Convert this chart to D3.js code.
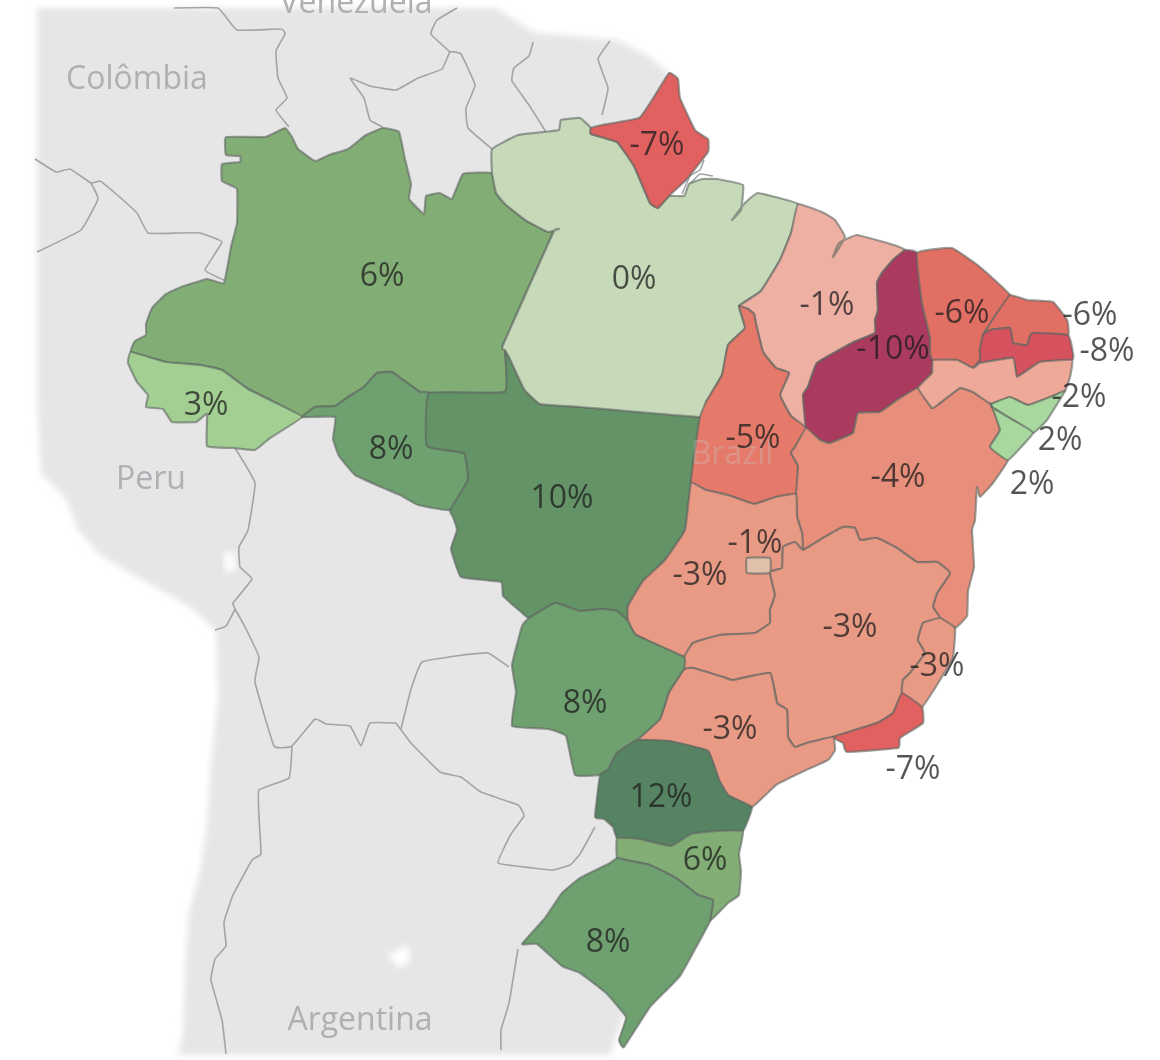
<!DOCTYPE html>
<html>
<head>
<meta charset="utf-8">
<script src="https://cdn.jsdelivr.net/npm/d3@7"></script>
<style>
  html, body { margin: 0; background: #fff; }
  svg { display: block; filter: blur(.6px); }
</style>
</head>
<body>
<svg id="map"></svg>
<script>
// outlines are traced off the picture, in map units. shared borders are kept
// once as arcs, states list their arcs in order ("-" = walk it backwards)
const stateNames = ['AM','AC','RO','MT','PA','AP','MA','TO','PI','BA','GO','DF','MG','ES','RJ','SP','MS','PR','SC','RS','CE','RN','PB','PE','AL','SE']
const stateValues = [6,3,8,10,0,-7,-1,-5,-10,-4,-3,-0.6,-3,-3,-7,-3,8,12,6,8,-6,-6,-8,-2,2,2]
const labelSpots = [[382,274],[206,403],[391,447],[562,496],[634,277],[657,143],[827,303],[753,436],[893,347],[898,475],[700,573],[755,541],[850,625],[937,664],[913,767],[730,727],[585,701],[661,795],[705,858],[608,940],[962,311],[1090,313],[1107,349],[1079,395],[1060,438],[1032,482]]
const stateRings = [
  ['amNorth','amPa','amMt','amRo','amAc','amWest'],
  ['acOuter','amAc'],
  ['roMt','roSouth','-amRo'],
  ['paMt','mtTo','mtGo','mtMs','mtWest','-roMt','-amMt'],
  ['paNorth','paAp','paCoast','paMa','paTo','-paMt','-amPa'],
  ['apOuter','-paAp'],
  ['maCoast','maPi','-toMa','-paMa'],
  ['toMa','toBa','-toGo','-mtTo','-paTo'],
  ['piCoast','piCe','piPe','piBa','-maPi'],
  ['-piBa','baPe','baSe','baCoast','baEs','baMg','baGo','-toBa'],
  ['toGo','-baGo','goMg','goMs','-mtGo'],
  ['dfBox'],
  ['-baMg','mgEs','mgRj','mgSp','mgMs','-goMg'],
  ['-baEs','esCoast','esRj','-mgEs'],
  ['-mgRj','-esRj','rjCoast'],
  ['-mgSp','spCoast','spPr','spMs'],
  ['-goMs','-mgMs','-spMs','msPr','msWest','-mtMs'],
  ['-spPr','prCoast','prSc','prWest','-msPr'],
  ['-prSc','scCoast','scRs','scWest'],
  ['-scRs','rsCoast','rsWest'],
  ['ceCoast','ceRn','cePb','cePe','-piCe'],
  ['rnCoast','rnPb','-ceRn'],
  ['-rnPb','pbCoast','pbPe','-cePb'],
  ['-cePe','-pbPe','peCoast','peAl','-baPe','-piPe'],
  ['-peAl','alCoast','alSe'],
  ['-alSe','seCoast','-baSe']
]

const arcs = {
  amNorth: [[226,137],[265,137],[285,128],[292,137],[298,149],[315,161],[329,155],[348,149],[366,135],[383,128],[399,132],[405,159],[411,184],[409,199],[424,214],[426,196],[440,193],[452,199],[463,174],[492,173]],
  amPa: [[492,173],[496,193],[505,204],[525,220],[548,232],[559,229],[553,233],[503,345],[505,350]],
  amMt: [[505,350],[505,392],[429,393]],
  amRo: [[429,393],[420,392],[403,380],[392,372],[377,373],[364,387],[348,397],[335,406],[315,407],[302,417]],
  amAc: [[302,417],[274,402],[248,389],[222,370],[200,365],[166,362],[131,352]],
  amWest: [[131,352],[135,341],[146,335],[146,324],[152,308],[166,294],[181,287],[207,279],[224,283],[231,247],[237,223],[237,189],[222,181],[222,164],[240,162],[240,156],[226,155],[226,137]],
  acOuter: [[131,352],[128,363],[137,382],[148,395],[146,407],[163,409],[172,422],[196,422],[207,414],[207,446],[233,448],[255,450],[270,438],[302,417]],
  roMt: [[429,393],[427,446],[464,453],[468,480],[450,510]],
  roSouth: [[450,510],[418,505],[400,495],[381,487],[355,475],[339,456],[333,439],[335,417],[302,417]],
  paMt: [[505,350],[509,357],[524,389],[540,404],[580,407],[700,417]],
  mtTo: [[700,417],[695,450],[691,483]],
  mtGo: [[691,483],[685,530],[665,560],[643,581],[628,606],[628,621]],
  mtMs: [[628,621],[617,611],[602,609],[580,611],[555,603],[529,618]],
  mtWest: [[529,618],[520,611],[503,596],[501,582],[461,577],[451,549],[457,530],[453,517],[450,510]],
  paNorth: [[492,173],[492,149],[518,135],[544,132],[559,130],[561,120],[580,118],[591,128]],
  paAp: [[591,128],[591,134],[617,142],[634,166],[650,203],[658,208],[669,196]],
  paCoast: [[669,196],[684,196],[689,184],[702,179],[717,179],[743,185],[741,210],[732,220],[745,203],[758,193],[798,204]],
  paMa: [[798,204],[791,233],[780,260],[761,291],[739,306]],
  paTo: [[739,306],[745,328],[728,345],[722,375],[706,402],[700,417]],
  apOuter: [[591,128],[602,125],[639,118],[652,100],[669,73],[678,79],[680,98],[695,130],[708,139],[708,152],[687,179],[669,196]],
  maCoast: [[798,204],[824,213],[835,220],[845,237],[833,257],[839,243],[857,235],[894,245],[905,250]],
  maPi: [[905,250],[893,260],[882,273],[877,283],[878,310],[875,320],[875,333],[852,343],[817,363],[808,387],[803,395],[806,428]],
  toMa: [[739,306],[748,309],[754,314],[756,324],[763,352],[776,368],[789,373],[780,395],[791,416],[806,428]],
  toBa: [[806,428],[795,447],[791,453],[798,466],[796,494]],
  toGo: [[691,483],[706,490],[728,495],[754,504],[776,497],[796,494]],
  piCoast: [[905,250],[917,253]],
  piCe: [[917,253],[922,303],[930,337],[930,353],[933,360]],
  piPe: [[933,360],[932,373],[918,388]],
  piBa: [[918,388],[897,400],[880,412],[858,413],[853,433],[830,443],[820,440],[806,428]],
  baPe: [[918,388],[932,408],[940,403],[960,388],[973,392],[991,404]],
  baSe: [[991,404],[1000,430],[990,447],[1008,460]],
  baCoast: [[1008,460],[993,483],[980,497],[977,487],[975,520],[972,530],[974,567],[968,591],[967,616],[955,628]],
  baEs: [[955,628],[940,618]],
  baMg: [[940,618],[933,607],[937,593],[950,573],[937,562],[917,562],[897,548],[877,538],[860,540],[855,528],[843,527],[823,538],[803,550]],
  baGo: [[803,550],[802,533],[797,517],[796,494]],
  goMg: [[803,550],[795,542],[783,547],[782,568],[770,572],[775,595],[770,610],[770,623],[755,633],[720,635],[693,643],[684,657]],
  goMs: [[684,657],[636,635],[628,621]],
  dfBox: [[747,558],[770,558],[770,573],[747,573],[747,558]],
  mgEs: [[940,618],[923,623],[918,640],[925,653],[910,673],[903,680],[902,693]],
  mgRj: [[902,693],[893,713],[877,723],[833,737]],
  mgSp: [[833,737],[807,743],[795,747],[788,737],[787,710],[777,703],[770,673],[733,680],[723,677],[693,668],[684,669]],
  mgMs: [[684,669],[684,657]],
  esCoast: [[955,628],[953,657],[940,680],[922,707]],
  esRj: [[922,707],[902,693]],
  rjCoast: [[922,707],[923,723],[900,738],[898,748],[847,752],[843,743],[833,737]],
  spCoast: [[833,737],[835,750],[828,760],[802,772],[776,785],[752,807]],
  spPr: [[752,807],[728,795],[719,780],[708,751],[669,741],[637,740]],
  spMs: [[637,740],[660,719],[669,692],[682,672],[684,669]],
  msPr: [[637,740],[617,753],[608,770],[600,775]],
  msWest: [[600,775],[575,775],[566,736],[548,729],[512,726],[516,692],[512,665],[522,626],[529,618]],
  prCoast: [[752,807],[743,831]],
  prSc: [[743,831],[717,831],[691,834],[671,846],[639,839],[617,838]],
  prWest: [[617,838],[613,827],[604,819],[595,817],[600,775]],
  scCoast: [[743,831],[739,854],[741,871],[739,895],[728,903],[710,921]],
  scRs: [[710,921],[713,900],[698,895],[676,878],[650,865],[626,860],[617,858]],
  scWest: [[617,858],[617,838]],
  rsCoast: [[710,921],[706,929],[680,976],[650,1007],[624,1047]],
  rsWest: [[624,1047],[619,1040],[626,1017],[606,993],[580,973],[562,966],[537,944],[522,944],[545,918],[562,893],[580,878],[610,863],[617,858]],
  ceCoast: [[917,253],[952,248],[980,267],[1010,295]],
  ceRn: [[1010,295],[997,313],[988,327],[983,335]],
  cePb: [[983,335],[980,350],[980,360],[973,368]],
  cePe: [[973,368],[957,360],[933,360]],
  rnCoast: [[1010,295],[1027,300],[1053,302],[1067,320],[1068,335]],
  rnPb: [[1068,335],[1032,333],[1027,345],[1013,343],[1010,328],[990,330],[983,335]],
  pbCoast: [[1068,335],[1073,353],[1072,360]],
  pbPe: [[1072,360],[1040,362],[1017,377],[1013,358],[980,363],[973,368]],
  peCoast: [[1072,360],[1070,377],[1065,391]],
  peAl: [[1065,391],[1055,395],[1028,405],[1010,397],[991,404]],
  alCoast: [[1065,391],[1047,420],[1033,433]],
  alSe: [[1033,433],[1013,420],[993,408],[991,404]],
  seCoast: [[1033,433],[1008,460]]
}

// the grey neighbours behind Brazil
const landOutline = [[37,8],[496,8],[533,32],[580,37],[617,40],[650,57],[669,74],[650,500],[650,950],[615,1040],[610,1055],[178,1055],[183,1034],[185,969],[189,912],[200,871],[207,824],[211,760],[218,699],[216,630],[189,606],[137,577],[100,555],[78,530],[67,500],[41,473],[37,400],[37,8]]
const lakes = [
  [[225,552],[233,552],[236,568],[229,574],[224,566],[225,552]],
  [[385,950],[392,954],[408,944],[410,962],[398,968],[385,950]]
]
const neighbourLines = [
  [[174,8],[218,8],[237,30],[281,29],[285,34],[276,51],[278,78],[287,98],[276,110],[289,127]],
  [[383,127],[370,120],[364,98],[350,78],[370,86],[396,90],[418,78],[442,69],[450,52],[461,54],[475,85],[466,108],[468,128],[492,149]],
  [[450,52],[431,34],[437,20],[457,8]],
  [[533,42],[529,56],[514,68],[512,81],[529,105],[546,132]],
  [[610,41],[598,59],[608,88],[602,115]],
  [[35,159],[56,172],[70,169],[91,183],[100,181],[115,193],[137,213],[148,233],[178,233],[200,233],[222,242],[205,270],[224,280]],
  [[91,183],[98,199],[81,230],[37,252]],
  [[235,448],[255,483],[248,530],[239,547],[240,567],[252,579],[233,603],[235,609],[226,626],[215,630]],
  [[235,609],[244,625],[259,657],[255,682],[274,746],[292,746],[315,719],[326,724],[350,726],[361,746],[370,723],[396,723]],
  [[401,729],[411,689],[422,662],[463,655],[488,653],[509,667]],
  [[396,723],[411,743],[440,772],[461,777],[481,792],[518,805],[524,816],[511,834],[498,863],[533,868],[553,870],[570,865],[580,854],[595,827]],
  [[292,746],[289,778],[259,790],[259,817],[261,854],[252,860],[233,895],[224,922],[226,946],[215,959],[211,980],[222,1020],[226,1054]],
  [[518,949],[509,1003],[501,1030],[501,1050]]
]
const deltaLines = [
  [[682,194],[690,176],[700,170],[704,160]],
  [[690,184],[700,174],[713,176]],
  [[684,182],[694,168]]
]
const countryNames = ['Colômbia','Peru','Argentina','Venezuela']
const countrySpots = [[137,89],[151,489],[360,1030],[356,13]]

const colorStops = [-10,-8,-7,-6,-5,-4,-3,-2,-1,0,2,3,6,8,10,12]
const colorValues = ['#ab3a5f','#d6525f','#e0615f','#e26f64','#e57a6a','#e78f7a','#e89a85','#eea998','#eeb0a2','#c6d9b9','#a9d89e','#a3cf93','#82ae76','#6fa070','#639366','#568463']

const width = 1160, height = 1060
const color = d3.scaleLinear().domain(colorStops).range(colorValues)

const svg = d3.select('#map').attr('width', width).attr('height', height)

const projection = d3.geoIdentity().fitSize([width, height], {type: 'MultiPoint', coordinates: [[0,0],[1160,1060]]})
const path = d3.geoPath(projection)

// only slightly rounded, corners have to stay corners
const ringLine = d3.line()
  .x((d) => projection(d)[0])
  .y((d) => projection(d)[1])
  .curve(d3.curveCardinalClosed.tension(.7))
const openLine = d3.line()
  .x((d) => projection(d)[0])
  .y((d) => projection(d)[1])
  .curve(d3.curveCardinal.tension(.7))

const ringOf = (names) => {
  const pts = []
  names.forEach((n) => {
    const back = n[0] === '-'
    const arc = arcs[back ? n.slice(1) : n]
    const seq = back ? arc.slice().reverse() : arc
    pts.push(...(pts.length ? seq.slice(1) : seq))
  })
  return pts.slice(0, -1) // last point repeats the first
}
const poly = (ring) => ({type: 'Polygon', coordinates: [ring]})

const defs = svg.append('defs')
defs.append('filter').attr('id', 'soft').append('feGaussianBlur').attr('stdDeviation', 3)

svg.append('path')
  .attr('d', path(poly(landOutline)))
  .attr('fill', '#e6e6e7')
  .attr('filter', 'url(#soft)')

svg.selectAll('path.lake').data(lakes).enter().append('path')
  .attr('class', 'lake')
  .attr('d', (d) => path(poly(d)))
  .attr('fill', '#fff')
  .attr('filter', 'url(#soft)')

svg.selectAll('path.neighbour').data(neighbourLines.concat(deltaLines)).enter().append('path')
  .attr('class', 'neighbour')
  .attr('d', (d) => openLine(d))
  .attr('fill', 'none')
  .attr('stroke', '#a3a4a6')
  .attr('stroke-width', 1.6)

svg.selectAll('text.country').data(countryNames).enter().append('text')
  .attr('class', 'country')
  .attr('x', (d, i) => projection(countrySpots[i])[0])
  .attr('y', (d, i) => projection(countrySpots[i])[1])
  .attr('text-anchor', 'middle')
  .attr('font-family', 'Open Sans')
  .attr('font-size', 32)
  .attr('fill', '#aeb0b3')
  .text((d) => d)

const states = stateNames.map((name, i) => ({name, value: stateValues[i], ring: ringOf(stateRings[i]), spot: labelSpots[i]}))

svg.selectAll('path.state').data(states).enter().append('path')
  .attr('class', 'state')
  .attr('d', (d) => ringLine(d.ring))
  .attr('fill', (d) => color(d.value))
  .attr('stroke', '#5f6660')
  .attr('stroke-opacity', .6)
  .attr('stroke-width', 2.2)
  .attr('stroke-linejoin', 'round')

svg.append('text')
  .attr('x', projection([732,0])[0])
  .attr('y', projection([0,464])[1])
  .attr('text-anchor', 'middle')
  .attr('font-family', 'Open Sans')
  .attr('font-size', 32)
  .attr('fill', '#c9c9c9')
  .attr('opacity', .3)
  .text('Brazil')

svg.selectAll('text.value').data(states).enter().append('text')
  .attr('class', 'value')
  .attr('x', (d) => projection(d.spot)[0])
  .attr('y', (d) => projection(d.spot)[1])
  .attr('dy', '.36em')
  .attr('text-anchor', 'middle')
  .attr('font-family', 'Open Sans')
  .attr('font-size', 32)
  .attr('fill', '#1c1c1c')
  .attr('fill-opacity', .75)
  .text((d) => Math.round(d.value) + '%')
</script>
</body>
</html>
